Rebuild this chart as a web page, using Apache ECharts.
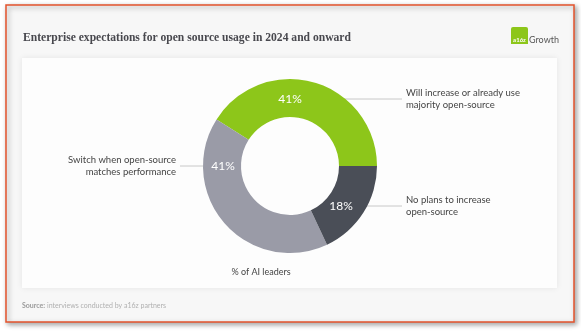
<!DOCTYPE html>
<html><head><meta charset="utf-8">
<script src="https://cdn.jsdelivr.net/npm/echarts@6/dist/echarts.min.js"></script>
<style>html,body{margin:0;padding:0;background:#fff;}#c{width:581px;height:331px;}</style>
</head><body><div id="c"></div>
<script>
const categories = ['Will increase or already use\nmajority open-source', 'Switch when open-source\nmatches performance', 'No plans to increase\nopen-source'];
const values = [41, 41, 18];
const colors = ['#8dc61a', '#9a9ba7', '#4a4e57'];
const titleText = 'Enterprise expectations for open source usage in 2024 and onward';
const axisCaption = '% of AI leaders';
const sourceLabel = 'Source:';
const sourceText = 'interviews conducted by a16z partners';

const CX = 290, CY = 166;
const place = [
  {ix: 290, y: 99, lx0: 305, lx1: 402, tx: 406, align: 'left'},
  {ix: 223, y: 166, lx0: 207, lx1: 180, tx: 176, align: 'right'},
  {ix: 341, y: 206, lx0: 354, lx1: 402, tx: 406, align: 'left'}
];
const data = categories.map((c, i) => ({name: c, value: values[i], itemStyle: {color: colors[i]}}));
const chart = echarts.init(document.getElementById('c'), null, {renderer: 'canvas'});
chart.setOption({
  backgroundColor: '#ffffff',
  animation: false,
  graphic: [
    {type: 'rect', shape: {x: 6, y: 5, width: 568, height: 317}, style: {fill: '#f7f7f7', stroke: '#e4532c', lineWidth: 1.5, shadowBlur: 5, shadowOffsetX: 2, shadowOffsetY: 2, shadowColor: 'rgba(0,0,0,0.35)'}, z: 0},
    {type: 'rect', shape: {x: 22, y: 58, width: 535, height: 230}, style: {fill: '#fdfdfd', shadowBlur: 6, shadowColor: 'rgba(0,0,0,0.08)'}, z: 1},
    {type: 'text', x: 23, y: 38, style: {text: titleText, font: 'bold 11.6px "Liberation Serif"', fill: '#48484e', verticalAlign: 'middle'}, z: 2},
    {type: 'rect', shape: {x: 511, y: 27, width: 17, height: 17, r: [2,2,0,0]}, style: {fill: '#8dc61a'}, z: 2},
    {type: 'text', x: 519.5, y: 40, style: {text: 'a16z', font: 'bold 6px Lato', fill: '#fff', align: 'center', verticalAlign: 'middle'}, z: 3},
    {type: 'text', x: 529, y: 40, style: {text: 'Growth', font: '9px Lato', fill: '#555', verticalAlign: 'middle'}, z: 2},
    {type: 'text', x: 261, y: 272, style: {text: axisCaption, font: '9px Lato', fill: '#444', align: 'center', verticalAlign: 'middle'}, z: 2},
    {type: 'text', x: 22, y: 306, style: {text: '{b|' + sourceLabel + '} ' + sourceText, font: '7px Lato', fill: '#b0b0b0', verticalAlign: 'middle', rich: {b: {fontWeight: 'bold', fill: '#9a9a9a', fontSize: 7, fontFamily: 'Lato'}}}, z: 2}
  ],
  series: [
    {
      type: 'pie', center: [CX, CY], radius: [49, 87], startAngle: 0, clockwise: false,
      z: 5, silent: true,
      data: data,
      label: {show: true, position: 'inside', formatter: '{c}%', color: '#fff', fontSize: 12, fontFamily: 'Lato'},
      labelLine: {show: false},
      labelLayout: function (p) { const q = place[p.dataIndex]; return {x: q.ix, y: q.y, align: 'center', verticalAlign: 'middle'}; }
    },
    {
      type: 'pie', center: [CX, CY], radius: [49, 87], startAngle: 0, clockwise: false,
      z: 4, silent: true,
      data: data.map(d => ({name: d.name, value: d.value, itemStyle: {color: 'rgba(0,0,0,0)'}})),
      label: {show: true, position: 'outside', formatter: '{b}', color: '#444', fontSize: 9.5, fontFamily: 'Lato', lineHeight: 12},
      labelLine: {show: true, lineStyle: {color: '#c8c8c8', width: 1}},
      labelLayout: function (p) {
        const q = place[p.dataIndex];
        return {x: q.tx, y: q.y, align: q.align, verticalAlign: 'middle',
          labelLinePoints: [[q.lx0, q.y], [q.lx1, q.y], [q.lx1, q.y]]};
      }
    }
  ]
});
</script></body></html>
